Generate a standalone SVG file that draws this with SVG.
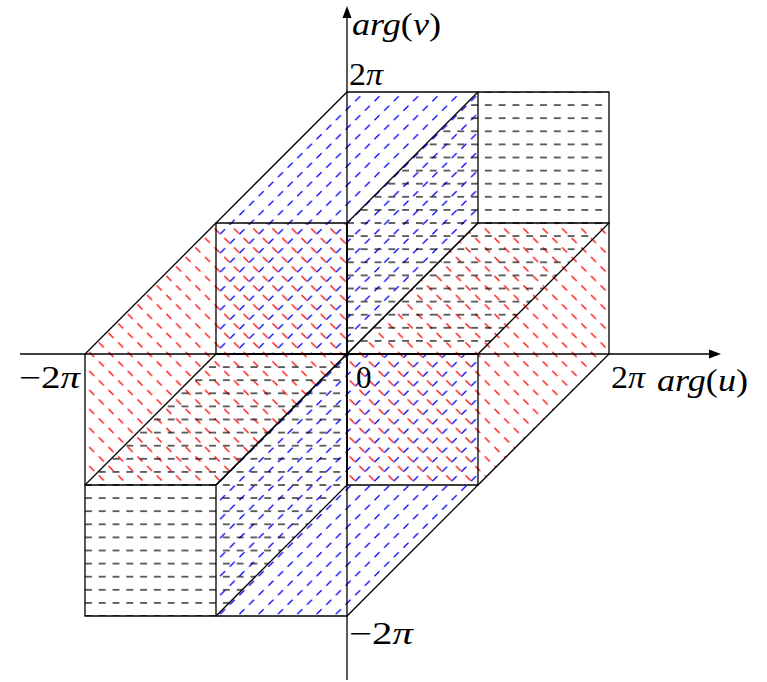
<svg xmlns="http://www.w3.org/2000/svg" width="767" height="682" viewBox="0 0 767 682">
<style>
.edge{fill:none;stroke:#000;stroke-width:1.3;stroke-linejoin:miter}
.axis{fill:none;stroke:#000;stroke-width:1.3}
.lbl{font-family:'Liberation Serif','Times New Roman',serif;font-size:31px;fill:#000}
.it{font-style:italic}
</style>
<defs>
<pattern id="pk" patternUnits="userSpaceOnUse" x="347" y="347.45" width="13.79" height="13.1">
<line x1="0" y1="6.55" x2="6.9" y2="6.55" stroke="#000" stroke-width="1.2"/>
</pattern>
<pattern id="pb" patternUnits="userSpaceOnUse" x="352.875" y="93.95" width="19.3" height="19">
<path d="M2.325 7.25L7.325 2.25M11.975 16.75L16.975 11.75" stroke="#0000ff" stroke-width="1.2"/>
</pattern>
<pattern id="pr" patternUnits="userSpaceOnUse" x="77.225" y="359.25" width="19.3" height="19">
<path d="M2.325 2.25L7.325 7.25M11.975 11.75L16.975 16.75" stroke="#ff0000" stroke-width="1.2"/>
</pattern>
</defs>
<rect width="767" height="682" fill="#fff"/>
<g id="blue-top"><polygon points="347,354 478,223 478,92 347,92 216,223 216,354" fill="url(#pb)"/></g>
<g id="blue-bottom"><polygon points="347,354 478,354 478,485 347,616 216,616 216,485" fill="url(#pb)"/></g>
<g id="red-left"><polygon points="347,354 347,223 216,223 85,354 85,485 216,485" fill="url(#pr)"/></g>
<g id="red-right"><polygon points="347,354 478,223 609,223 609,354 478,485 347,485" fill="url(#pr)"/></g>
<g id="black-top"><polygon points="347,354 478,354 609,223 609,92 478,92 347,223" fill="url(#pk)"/></g>
<g id="black-bottom"><polygon points="347,354 216,354 85,485 85,616 216,616 347,485" fill="url(#pk)"/></g>
<g id="edges">
<polygon class="edge" points="347,354 478,223 478,92 347,92 216,223 216,354"/>
<polygon class="edge" points="347,354 478,354 478,485 347,616 216,616 216,485"/>
<polygon class="edge" points="347,354 347,223 216,223 85,354 85,485 216,485"/>
<polygon class="edge" points="347,354 478,223 609,223 609,354 478,485 347,485"/>
<polygon class="edge" points="347,354 478,354 609,223 609,92 478,92 347,223"/>
<polygon class="edge" points="347,354 216,354 85,485 85,616 216,616 347,485"/>
</g>
<g id="axes">
<line class="axis" x1="20" y1="354" x2="712" y2="354"/>
<polygon points="721,354 709,349.5 709,358.5" fill="#000"/>
<line class="axis" x1="347" y1="680" x2="347" y2="16"/>
<polygon points="347,6 342.5,18 351.5,18" fill="#000"/>
</g>
<g id="labels">
<text class="lbl" x="352" y="35" textLength="89" lengthAdjust="spacingAndGlyphs"><tspan class="it">arg</tspan>(<tspan class="it">v</tspan>)</text>
<text class="lbl" x="349" y="85" textLength="34" lengthAdjust="spacingAndGlyphs">2<tspan class="it">π</tspan></text>
<text class="lbl" x="19" y="388" textLength="61" lengthAdjust="spacingAndGlyphs">−2<tspan class="it">π</tspan></text>
<text class="lbl" x="356" y="388">0</text>
<text class="lbl" x="611" y="388" textLength="34" lengthAdjust="spacingAndGlyphs">2<tspan class="it">π</tspan></text>
<text class="lbl" x="657" y="391" textLength="91" lengthAdjust="spacingAndGlyphs"><tspan class="it">arg</tspan>(<tspan class="it">u</tspan>)</text>
<text class="lbl" x="349" y="644" textLength="64" lengthAdjust="spacingAndGlyphs">−2<tspan class="it">π</tspan></text>
</g>
</svg>
